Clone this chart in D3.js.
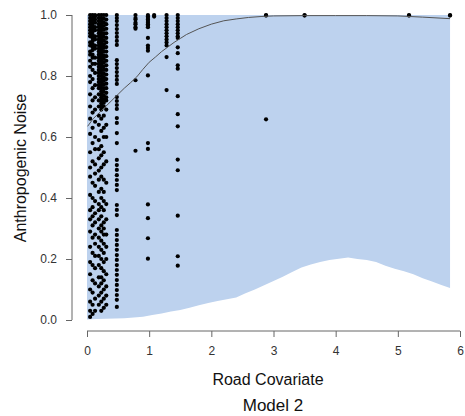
<!DOCTYPE html>
<html>
<head>
<meta charset="utf-8">
<script src="https://cdn.jsdelivr.net/npm/d3@7"></script>
<style>
  body { margin: 0; background: #fff; }
  svg { display: block; font-family: "Liberation Sans", Arial, sans-serif; }
</style>
</head>
<body>
<svg width="465" height="416"></svg>
<script>
// road covariate groups, each with the observed noise values
const roadGroups = [0.05, 0.09, 0.13, 0.19, 0.23, 0.27, 0.31, 0.48, 0.78, 0.98, 1.08, 1.28, 1.46, 2.88, 3.5, 5.18, 5.84];
const noiseGroups = [
    [1.0, 0.99, 0.98, 0.97, 0.96, 0.95, 0.94, 0.93, 0.91, 0.90, 0.88, 0.87, 0.85, 0.83, 0.80, 0.78, 0.74, 0.70, 0.66, 0.61, 0.55, 0.50, 0.47, 0.41, 0.36, 0.33, 0.29, 0.24, 0.19, 0.15, 0.10, 0.06, 0.03, 0.01],
    [1.0, 0.99, 0.985, 0.975, 0.965, 0.955, 0.945, 0.935, 0.925, 0.915, 0.905, 0.895, 0.885, 0.87, 0.86, 0.84, 0.82, 0.79, 0.76, 0.72, 0.68, 0.63, 0.58, 0.52, 0.45, 0.40, 0.37, 0.34, 0.31, 0.27, 0.22, 0.18, 0.13, 0.09, 0.05, 0.02],
    [1.0, 0.995, 0.985, 0.975, 0.96, 0.95, 0.93, 0.92, 0.90, 0.89, 0.86, 0.84, 0.81, 0.77, 0.73, 0.69, 0.65, 0.60, 0.56, 0.51, 0.48, 0.44, 0.39, 0.35, 0.32, 0.28, 0.25, 0.21, 0.17, 0.12, 0.07, 0.03],
    [1.0, 0.99, 0.98, 0.97, 0.96, 0.95, 0.94, 0.93, 0.92, 0.91, 0.90, 0.89, 0.88, 0.87, 0.86, 0.85, 0.84, 0.83, 0.82, 0.81, 0.80, 0.79, 0.78, 0.77, 0.76, 0.74, 0.72, 0.70, 0.67, 0.64, 0.59, 0.56, 0.53, 0.49, 0.46, 0.42, 0.38, 0.36, 0.33, 0.30, 0.27, 0.24, 0.21, 0.18, 0.14, 0.11, 0.08, 0.05],
    [1.0, 0.99, 0.98, 0.97, 0.96, 0.95, 0.94, 0.93, 0.92, 0.91, 0.90, 0.89, 0.88, 0.87, 0.86, 0.85, 0.84, 0.83, 0.82, 0.81, 0.80, 0.79, 0.78, 0.77, 0.76, 0.75, 0.74, 0.73, 0.72, 0.71, 0.70, 0.69, 0.66, 0.62, 0.57, 0.54, 0.50, 0.47, 0.43, 0.40, 0.37, 0.34, 0.31, 0.29, 0.26, 0.23, 0.20, 0.17, 0.14, 0.12, 0.09, 0.06, 0.03],
    [1.0, 0.988, 0.976, 0.964, 0.952, 0.94, 0.928, 0.916, 0.904, 0.892, 0.88, 0.868, 0.856, 0.844, 0.832, 0.82, 0.808, 0.796, 0.784, 0.772, 0.76, 0.748, 0.736, 0.724, 0.712, 0.70, 0.67, 0.63, 0.60, 0.55, 0.51, 0.46, 0.42, 0.39, 0.36, 0.32, 0.30, 0.28, 0.25, 0.22, 0.19, 0.16, 0.13, 0.10, 0.07, 0.04],
    [1.0, 0.985, 0.97, 0.955, 0.94, 0.925, 0.91, 0.895, 0.88, 0.865, 0.85, 0.835, 0.82, 0.805, 0.79, 0.775, 0.76, 0.745, 0.73, 0.72, 0.69, 0.64, 0.60, 0.52, 0.45, 0.38, 0.33, 0.28, 0.24, 0.20, 0.15, 0.11, 0.08, 0.05],
    [1.0, 0.99, 0.98, 0.967, 0.954, 0.941, 0.928, 0.915, 0.902, 0.852, 0.839, 0.826, 0.813, 0.80, 0.787, 0.774, 0.731, 0.718, 0.705, 0.692, 0.662, 0.646, 0.613, 0.58, 0.525, 0.508, 0.492, 0.475, 0.459, 0.443, 0.426, 0.377, 0.361, 0.344, 0.295, 0.279, 0.262, 0.246, 0.23, 0.213, 0.197, 0.18, 0.164, 0.148, 0.131, 0.115, 0.098, 0.082, 0.066, 0.043],
    [1.0, 0.99, 0.985, 0.975, 0.97, 0.96, 0.955, 0.786, 0.555],
    [1.0, 0.995, 0.99, 0.985, 0.98, 0.975, 0.97, 0.965, 0.96, 0.925, 0.90, 0.892, 0.883, 0.802, 0.58, 0.561, 0.379, 0.334, 0.268, 0.201],
    [1.0, 0.995],
    [1.0, 0.99, 0.98, 0.97, 0.96, 0.95, 0.94, 0.93, 0.92, 0.91, 0.90, 0.862, 0.754],
    [1.0, 0.99, 0.98, 0.97, 0.96, 0.95, 0.94, 0.93, 0.925, 0.894, 0.875, 0.835, 0.824, 0.734, 0.675, 0.635, 0.526, 0.491, 0.342, 0.209, 0.178],
    [1.0, 0.998, 0.658],
    [1.0, 0.998],
    [1.0, 0.998],
    [1.0, 0.998]
];

// prediction band (upper is 1 everywhere)
const bandX = [0, 0.15, 0.3, 0.45, 0.6, 0.75, 0.9, 1.05, 1.2, 1.35, 1.5, 1.65, 1.8, 1.95, 2.1, 2.25, 2.4, 2.55, 2.7, 2.85, 3.0, 3.15, 3.3, 3.45, 3.6, 3.75, 3.9, 4.05, 4.2, 4.35, 4.5, 4.65, 4.8, 4.95, 5.1, 5.25, 5.4, 5.55, 5.7, 5.84];
const bandLow = [0.002, 0.003, 0.004, 0.005, 0.006, 0.008, 0.011, 0.016, 0.021, 0.028, 0.033, 0.04, 0.048, 0.056, 0.062, 0.068, 0.074, 0.088, 0.1, 0.114, 0.128, 0.142, 0.157, 0.172, 0.182, 0.19, 0.197, 0.201, 0.205, 0.2, 0.197, 0.19, 0.178, 0.168, 0.16, 0.15, 0.137, 0.126, 0.115, 0.105];
const bandHigh = 1.0;

// fitted curve
const fitX = [0.01, 0.1, 0.2, 0.3, 0.4, 0.5, 0.6, 0.7, 0.8, 0.9, 1.0, 1.1, 1.2, 1.3, 1.4, 1.5, 1.6, 1.8, 2.0, 2.2, 2.4, 2.6, 2.8, 3.0, 3.5, 4.0, 4.5, 5.0, 5.4, 5.84];
const fitY = [0.635, 0.66, 0.68, 0.70, 0.72, 0.74, 0.76, 0.778, 0.797, 0.822, 0.845, 0.862, 0.88, 0.895, 0.91, 0.923, 0.936, 0.955, 0.97, 0.981, 0.987, 0.992, 0.995, 0.997, 0.998, 0.998, 0.998, 0.997, 0.993, 0.988];

const xTicks = [0, 1, 2, 3, 4, 5, 6];
const yTicks = [0, 0.2, 0.4, 0.6, 0.8, 1.0];

const svg = d3.select("svg");

const x = d3.scaleLinear().domain([0, 6]).range([87, 460]);
const y = d3.scaleLinear().domain([0, 1]).range([320, 15]);

// band
const band = bandX.map((d, i) => ({x: d, lo: bandLow[i]}));
svg.append("path")
    .datum(band)
    .attr("fill", "#bdd2ee")
    .attr("d", d3.area()
        .x(d => x(d.x))
        .y0(d => y(d.lo))
        .y1(y(bandHigh)));

// points
const points = [];
roadGroups.forEach((r, i) => {
    noiseGroups[i].forEach(v => points.push({road: r, noise: v}));
});

svg.append("g")
    .selectAll("circle")
    .data(points)
    .enter()
    .append("circle")
    .attr("cx", d => x(d.road))
    .attr("cy", d => y(d.noise))
    .attr("r", 2.1)
    .attr("fill", "black");

// fitted line
svg.append("path")
    .datum(fitX.map((d, i) => [d, fitY[i]]))
    .attr("fill", "none")
    .attr("stroke", "#555")
    .attr("stroke-width", 1)
    .attr("d", d3.line().x(d => x(d[0])).y(d => y(d[1])));

// axes
const xAxis = svg.append("g")
    .attr("transform", "translate(0,331)")
    .call(d3.axisBottom(x).tickValues(xTicks).tickFormat(d3.format("d")).tickSize(6).tickPadding(9));

const yAxis = svg.append("g")
    .attr("transform", "translate(72,0)")
    .call(d3.axisLeft(y).tickValues(yTicks).tickFormat(d3.format(".1f")).tickSize(6).tickPadding(9));

[xAxis, yAxis].forEach(a => {
    a.select(".domain").attr("stroke", "#666");
    a.selectAll(".tick line").attr("stroke", "#666");
    a.selectAll(".tick text")
        .attr("fill", "#333")
        .style("font-size", "12px")
        .style("font-family", "Liberation Sans, Arial, sans-serif");
});
// R style domain: no outer tick stubs
xAxis.select(".domain").attr("d", `M${x(0)},0H${x(6)}`);
yAxis.select(".domain").attr("d", `M0,${y(0)}V${y(1)}`);

svg.append("text")
    .attr("x", 268)
    .attr("y", 385)
    .attr("text-anchor", "middle")
    .style("font-size", "16px")
    .attr("fill", "#111")
    .text("Road Covariate");

svg.append("text")
    .attr("x", 273)
    .attr("y", 411)
    .attr("text-anchor", "middle")
    .style("font-size", "17px")
    .attr("fill", "#111")
    .text("Model 2");

svg.append("text")
    .attr("transform", "translate(26,168) rotate(-90)")
    .attr("text-anchor", "middle")
    .style("font-size", "16px")
    .attr("fill", "#111")
    .text("Anthropogenic Noise");
</script>
</body>
</html>
